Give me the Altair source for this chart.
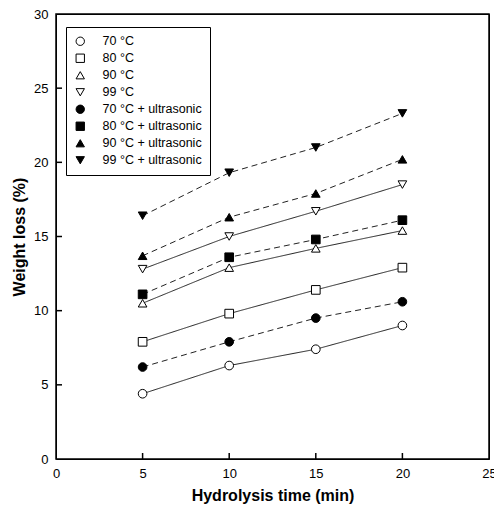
import altair as alt
import pandas as pd

times = [5, 10, 15, 20]
series = ["70 °C", "80 °C", "90 °C", "99 °C",
          "70 °C + ultrasonic", "80 °C + ultrasonic", "90 °C + ultrasonic", "99 °C + ultrasonic"]
ultrasonic = [False] * 4 + [True] * 4
v70 = [4.4, 6.3, 7.4, 9.0]
v80 = [7.9, 9.8, 11.4, 12.9]
v90 = [10.5, 12.9, 14.2, 15.4]
v99 = [12.8, 15.0, 16.7, 18.5]
u70 = [6.2, 7.9, 9.5, 10.6]
u80 = [11.1, 13.6, 14.8, 16.1]
u90 = [13.7, 16.3, 17.9, 20.2]
u99 = [16.4, 19.3, 21.0, 23.3]
shapes = ["circle", "square", "triangle-up", "triangle-down"] * 2
fills = ["white"] * 4 + ["black"] * 4
strokes = ["black"] * 8
x_ticks = [5, 10, 15, 20]
y_ticks = [5, 10, 15, 20, 25]

rows = []
for name, us, vals in zip(series, ultrasonic, [v70, v80, v90, v99, u70, u80, u90, u99]):
    for t, v in zip(times, vals):
        rows.append({"series": name, "kind": "dashed" if us else "solid", "time": t, "loss": v})
df = pd.DataFrame(rows)

W, H = 433, 445
font = "Liberation Sans"

xscale = alt.Scale(domain=[0, 25], nice=False)
yscale = alt.Scale(domain=[0, 30], nice=False)

xaxis = alt.Axis(values=[0, 5, 10, 15, 20, 25], ticks=False, domain=False, grid=False,
                 labelFontSize=13, labelPadding=8, labelColor="black", labelFont=font,
                 title="Hydrolysis time (min)", titleFontSize=16, titleFont=font,
                 titleFontWeight="bold", titlePadding=7, titleColor="black",
                 labelFlush=False)
yaxis = alt.Axis(values=[0, 5, 10, 15, 20, 25, 30], ticks=False, domain=False, grid=False,
                 labelFontSize=13, labelPadding=8, labelColor="black", labelFont=font,
                 title="Weight loss (%)", titleFontSize=16, titleFont=font,
                 titleFontWeight="bold", titlePadding=6, titleColor="black",
                 labelFlush=False)

leg = alt.Legend(title=None, orient="none", legendX=10, legendY=13,
                 strokeColor="black", fillColor="white", padding=8,
                 labelFontSize=12.5, labelFont=font, labelColor="black",
                 symbolSize=70, symbolStrokeWidth=1, labelOffset=16,
                 rowPadding=4)

lines = alt.Chart(df).mark_line(color="#222222", strokeWidth=1).encode(
    x=alt.X("time:Q", scale=xscale, axis=xaxis),
    y=alt.Y("loss:Q", scale=yscale, axis=yaxis),
    detail="series:N",
    strokeDash=alt.StrokeDash("kind:N", scale=alt.Scale(domain=["solid", "dashed"], range=[[1, 0], [6, 4]]), legend=None),
)

points = alt.Chart(df).mark_point(filled=True, strokeWidth=1, size=75, opacity=1).encode(
    x=alt.X("time:Q", scale=xscale),
    y=alt.Y("loss:Q", scale=yscale),
    shape=alt.Shape("series:N", scale=alt.Scale(domain=series, range=shapes), legend=leg),
    fill=alt.Fill("series:N", scale=alt.Scale(domain=series, range=fills), legend=leg),
    stroke=alt.Stroke("series:N", scale=alt.Scale(domain=series, range=strokes), legend=leg),
)

frame = alt.Chart(pd.DataFrame({"a": [0]})).mark_rect(fill="transparent", stroke="black", strokeWidth=1.5).encode(
    x=alt.value(0), x2=alt.value(W), y=alt.value(0), y2=alt.value(H))

xt = alt.Chart(pd.DataFrame({"t": x_ticks})).mark_rule(color="black", strokeWidth=1.5).encode(
    x=alt.X("t:Q", scale=xscale), y=alt.value(H), y2=alt.value(H - 6))
yt = alt.Chart(pd.DataFrame({"t": y_ticks})).mark_rule(color="black", strokeWidth=1.5).encode(
    y=alt.Y("t:Q", scale=yscale), x=alt.value(0), x2=alt.value(6))

chart = alt.layer(frame, xt, yt, lines, points).properties(
    width=W, height=H,
    autosize=alt.AutoSizeParams(type="none"),
    padding={"left": 48, "top": 6, "right": 5, "bottom": 45},
).configure_view(stroke="black", strokeWidth=1)

chart.save("out.html", embed_options={"renderer": "svg", "actions": False})
